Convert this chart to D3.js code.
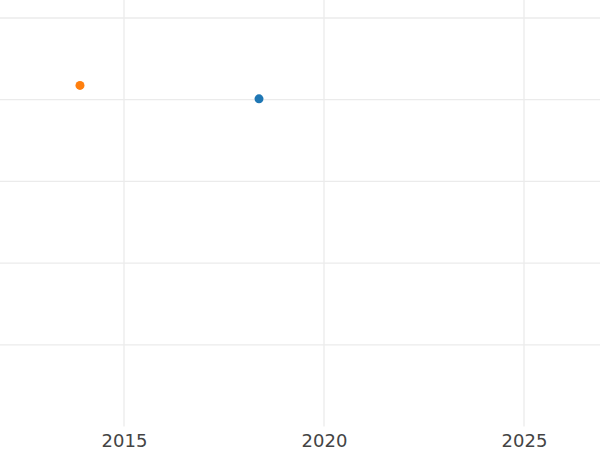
<!DOCTYPE html>
<html>
<head>
<meta charset="utf-8">
<script src="https://cdn.jsdelivr.net/npm/d3@7"></script>
<style>
  html, body { margin: 0; padding: 0; background: #fff; }
  svg { display: block; }
</style>
</head>
<body>
<svg id="chart" width="600" height="450"></svg>
<script>
// Data
const seriesNames = ["series A", "series B"];
const seriesYears = [2018.375, 2013.9];
const seriesValues = [3.01, 3.175];
const seriesColors = ["#1f77b4", "#ff7f0e"];
const xTickValues = [2015, 2020, 2025];
const yTickValues = [0, 1, 2, 3, 4];

const W = 600, H = 450;
const plot = { left: 0, right: 600, top: 0, bottom: 426.5 };

const svg = d3.select("#chart");

const x = d3.scaleLinear().domain([2011.9, 2026.9]).range([plot.left, plot.right]);
const y = d3.scaleLinear().domain([-1, 4.22]).range([plot.bottom, plot.top]);

// horizontal grid
svg.append("g")
  .selectAll("line")
  .data(yTickValues)
  .join("line")
  .attr("x1", plot.left).attr("x2", plot.right)
  .attr("y1", d => y(d)).attr("y2", d => y(d))
  .attr("stroke", "#ebebeb").attr("stroke-width", 1.3);

// vertical grid
svg.append("g")
  .selectAll("line")
  .data(xTickValues)
  .join("line")
  .attr("x1", d => x(d)).attr("x2", d => x(d))
  .attr("y1", plot.top).attr("y2", plot.bottom)
  .attr("stroke", "#ebebeb").attr("stroke-width", 1.3);

// x axis labels
const xAxis = d3.axisBottom(x).tickValues(xTickValues).tickFormat(d3.format("d")).tickSize(0).tickPadding(8);
const gx = svg.append("g").attr("transform", `translate(0,${plot.bottom})`).call(xAxis);
gx.select(".domain").remove();
gx.selectAll("text")
  .attr("font-family", "DejaVu Sans, sans-serif")
  .attr("font-size", 18)
  .attr("fill", "#444");

// points
const pts = seriesNames.map((n, i) => ({ name: n, year: seriesYears[i], value: seriesValues[i], color: seriesColors[i] }));
svg.append("g")
  .selectAll("circle")
  .data(pts)
  .join("circle")
  .attr("cx", d => x(d.year))
  .attr("cy", d => y(d.value))
  .attr("r", 4.5)
  .attr("fill", d => d.color);
</script>
</body>
</html>
